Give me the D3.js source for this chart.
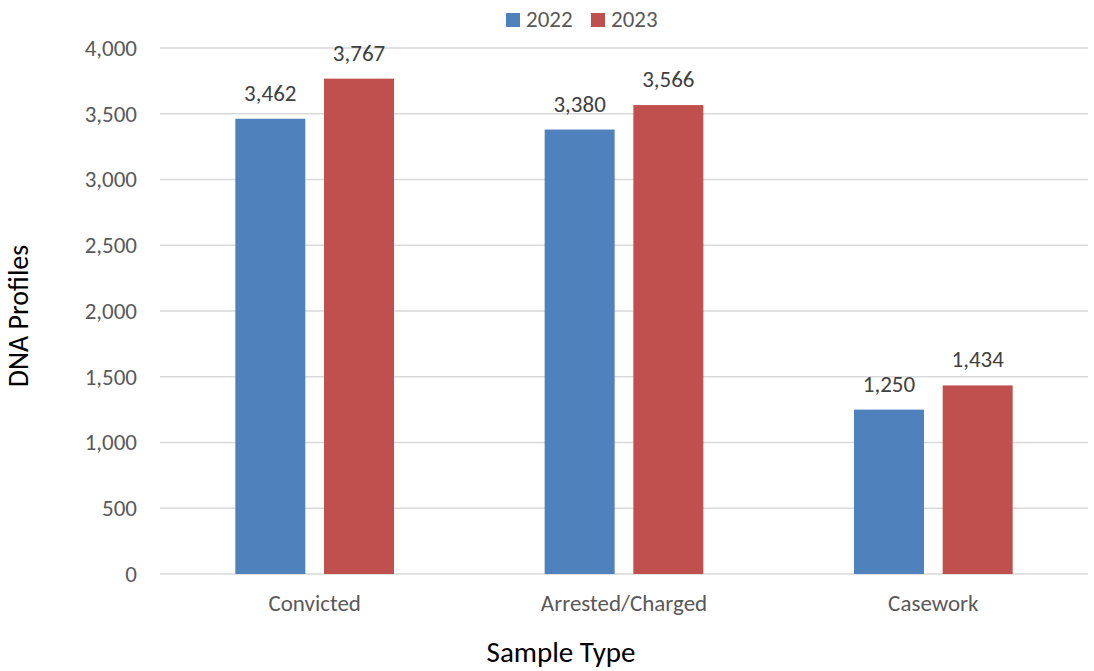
<!DOCTYPE html>
<html>
<head>
<meta charset="utf-8">
<script src="https://cdn.jsdelivr.net/npm/d3@7"></script>
<style>
  body { margin: 0; background: #fff; }
  text { font-family: Carlito, Calibri, Lato, "Open Sans", sans-serif; }
</style>
</head>
<body>
<svg id="chart" width="1094" height="671"></svg>
<script>
// data
var categories = ["Convicted", "Arrested/Charged", "Casework"];
var seriesNames = ["2022", "2023"];
var values2022 = [3462, 3380, 1250];
var values2023 = [3767, 3566, 1434];
var yTicks = [0, 500, 1000, 1500, 2000, 2500, 3000, 3500, 4000];
var colors = ["#4f81bd", "#c0504d"];

var svg = d3.select("#chart");
var margin = {top: 48, right: 6, bottom: 97, left: 160},
    width = 1094 - margin.left - margin.right,
    height = 671 - margin.top - margin.bottom;

var g = svg.append("g").attr("transform", "translate(" + margin.left + "," + margin.top + ")");

var x0 = d3.scaleBand().domain(categories).range([0, width]).paddingInner(0.487).paddingOuter(0.2435);
var x1 = d3.scaleBand().domain(seriesNames).range([0, x0.bandwidth()]).paddingInner(0.211);
var y = d3.scaleLinear().domain([0, 4000]).range([height, 0]);
var fmt = d3.format(",");

// gridlines
g.append("g")
  .selectAll("line")
  .data(yTicks)
  .enter().append("line")
  .attr("x1", 0).attr("x2", width)
  .attr("y1", function(d) { return y(d); })
  .attr("y2", function(d) { return y(d); })
  .style("stroke", "#d9d9d9")
  .style("stroke-width", 1.3);

// y axis labels
var yAxis = g.append("g").call(d3.axisLeft(y).tickValues(yTicks).tickFormat(fmt).tickSize(0).tickPadding(23));
yAxis.select(".domain").remove();
yAxis.selectAll("text").style("font-size", "23px").style("fill", "#595959");

// x axis labels
var xAxis = g.append("g").attr("transform", "translate(0," + height + ")")
  .call(d3.axisBottom(x0).tickSize(0));
xAxis.select(".domain").remove();
xAxis.selectAll("text").attr("y", 37).attr("dy", 0).style("font-size", "23px").style("fill", "#595959");

var rows = categories.map(function(c, i) {
  return {cat: c, vals: [values2022[i], values2023[i]]};
});

var groups = g.selectAll(".grp")
  .data(rows)
  .enter().append("g")
  .attr("class", "grp")
  .attr("transform", function(d) { return "translate(" + x0(d.cat) + ",0)"; });

groups.selectAll("rect")
  .data(function(d) { return d.vals.map(function(v, j) { return {name: seriesNames[j], v: v, j: j}; }); })
  .enter().append("rect")
  .attr("x", function(d) { return x1(d.name); })
  .attr("width", x1.bandwidth())
  .attr("y", function(d) { return y(d.v); })
  .attr("height", function(d) { return height - y(d.v); })
  .style("fill", function(d) { return colors[d.j]; });

groups.selectAll("text.val")
  .data(function(d) { return d.vals.map(function(v, j) { return {name: seriesNames[j], v: v}; }); })
  .enter().append("text")
  .attr("class", "val")
  .attr("x", function(d) { return x1(d.name) + x1.bandwidth() / 2; })
  .attr("y", function(d) { return y(d.v) - 18; })
  .attr("text-anchor", "middle")
  .style("font-size", "23px")
  .style("fill", "#404040")
  .text(function(d) { return fmt(d.v); });

// axis titles
svg.append("text")
  .attr("x", 561)
  .attr("y", 662)
  .attr("text-anchor", "middle")
  .style("font-size", "29px")
  .style("fill", "#000")
  .text("Sample Type");

svg.append("text")
  .attr("transform", "translate(28,316) rotate(-90)")
  .attr("text-anchor", "middle")
  .style("font-size", "28px")
  .style("fill", "#000")
  .text("DNA Profiles");

// legend
var legend = svg.append("g").attr("transform", "translate(506,13)");
var li = legend.selectAll("g")
  .data(seriesNames)
  .enter().append("g")
  .attr("transform", function(d, i) { return "translate(" + (i * 85) + ",0)"; });
li.append("rect").attr("width", 14).attr("height", 14).style("fill", function(d, i) { return colors[i]; });
li.append("text").attr("x", 20).attr("y", 14).style("font-size", "23px").style("fill", "#595959").text(function(d) { return d; });
</script>
</body>
</html>
